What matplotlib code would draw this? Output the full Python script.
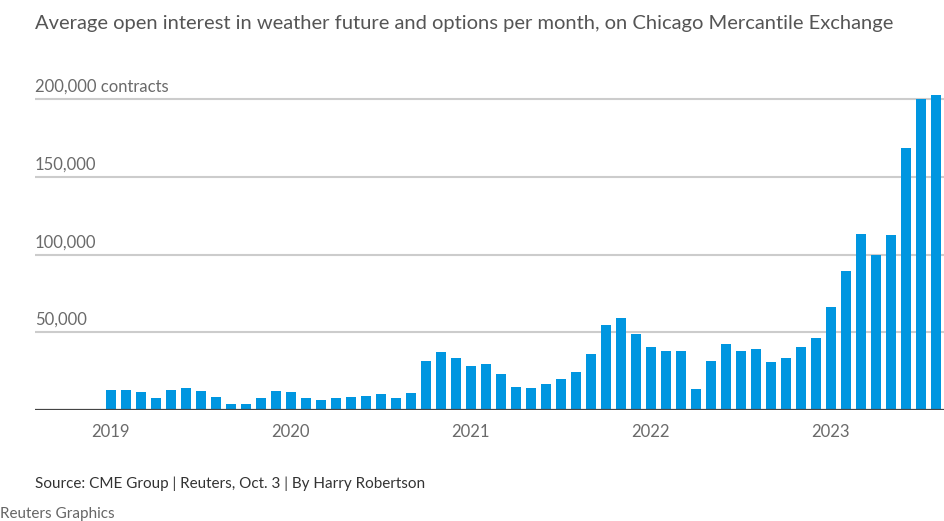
import matplotlib
matplotlib.use("Agg")
import matplotlib.pyplot as plt
import matplotlib.transforms as mtransforms

plt.rcParams['font.family'] = ['Lato', 'DejaVu Sans']

# Monthly average open interest (thousand contracts), Jan 2019 - Aug 2023
months = [f"{y}-{m:02d}" for y in range(2019, 2024) for m in range(1, 13)][:56]
values_k = [
    13.0, 13.0, 11.3, 7.4, 13.0, 13.9, 12.2, 8.5, 3.9, 3.7, 7.4, 12.2,     # 2019
    11.3, 7.4, 6.5, 7.4, 8.5, 9.1, 10.0, 7.4, 11.1, 31.6, 37.2, 33.3,      # 2020
    28.0, 29.8, 23.3, 14.8, 13.9, 16.7, 20.0, 24.3, 36.1, 54.8, 59.3, 48.7, # 2021
    40.7, 37.8, 37.8, 13.2, 31.6, 42.4, 38.1, 39.1, 30.8, 33.5, 40.2, 46.0, # 2022
    66.5, 89.5, 113.3, 99.8, 112.5, 168.2, 199.8, 202.8,                    # 2023
]
values = [v * 1000 for v in values_k]
year_ticks = [0, 12, 24, 36, 48]
year_labels = ["2019", "2020", "2021", "2022", "2023"]
y_grid = [50000, 100000, 150000, 200000]
y_labels = ["50,000", "100,000", "150,000", "200,000 contracts"]

W, H = 944, 521
fig = plt.figure(figsize=(W / 100, H / 100), dpi=100)
fig.patch.set_facecolor("white")

ax_left, ax_right = 35 / W, 944 / W
ax_bottom = (H - 410) / H
ymax = 205000
ax_top_px = 410 - 311 * ymax / 200000
ax = fig.add_axes([ax_left, ax_bottom, ax_right - ax_left, (410 - ax_top_px) / H])

x = list(range(len(values)))
ax.bar(x, values, width=0.7, color="#0096E0", zorder=3)

ax.set_xlim(-5.05, 55.55)
ax.set_ylim(0, ymax)

for g in y_grid:
    ax.axhline(g, color="#cccccc", linewidth=1.5, zorder=1)
ax.axhline(0, color="#444444", linewidth=1.6, zorder=4)

trans = mtransforms.blended_transform_factory(ax.transAxes, ax.transData)
for g, lab in zip(y_grid, y_labels):
    ax.annotate(lab, xy=(0, g), xycoords=trans, xytext=(0, 3),
                textcoords="offset points", ha="left", va="bottom",
                fontsize=12, color="#6a6a6a")

for s in ax.spines.values():
    s.set_visible(False)
ax.set_yticks([])
ax.set_xticks(year_ticks)
ax.set_xticklabels(year_labels, fontsize=12, color="#6a6a6a")
ax.tick_params(axis="x", length=0, pad=10)

fig.text(35 / W, 1 - 23 / H, "Average open interest in weather future and options per month, on Chicago Mercantile Exchange",
         ha="left", va="center", fontsize=14.5, color="#555555")
fig.text(35 / W, 1 - 484 / H, "Source: CME Group | Reuters, Oct. 3 | By Harry Robertson",
         ha="left", va="center", fontsize=11, color="#333333")
fig.text(0 / W, 1 - 514 / H, "Reuters Graphics",
         ha="left", va="center", fontsize=11, color="#666666")

fig.savefig("out.png", dpi=100, facecolor="white")
